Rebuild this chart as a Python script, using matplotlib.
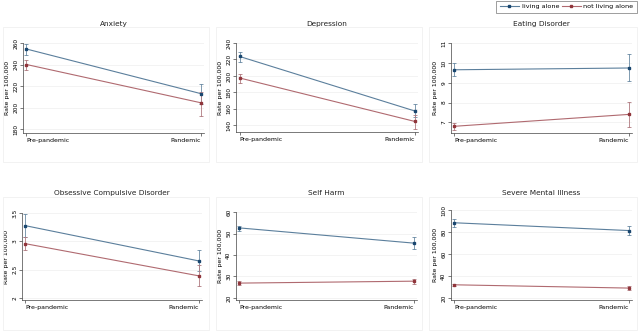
import matplotlib
matplotlib.use("Agg")
import matplotlib.pyplot as plt
from matplotlib.patches import Rectangle
from matplotlib.lines import Line2D

periods = ["Pre-pandemic", "Pandemic"]
titles = ["Anxiety", "Depression", "Eating Disorder",
          "Obsessive Compulsive Disorder", "Self Harm", "Severe Mental Illness"]

alone_rate = [[254.4, 213.0], [223.7, 157.6], [9.66, 9.75],
              [3.28, 2.655], [52.7, 45.6], [88.6, 81.5]]
alone_lo = [[249.0, 203.5], [217.0, 150.0], [9.32, 9.07],
            [3.08, 2.47], [51.4, 42.8], [84.9, 77.3]]
alone_hi = [[259.4, 222.0], [229.0, 166.0], [9.98, 10.44],
            [3.48, 2.84], [53.8, 48.4], [91.6, 85.6]]

notalone_rate = [[240.0, 204.5], [197.6, 144.9], [6.80, 7.40],
                 [2.96, 2.39], [26.9, 27.8], [31.9, 28.9]]
notalone_lo = [[235.0, 192.0], [192.0, 136.0], [6.61, 6.75],
               [2.85, 2.20], [25.9, 26.6], [30.9, 27.4]]
notalone_hi = [[244.6, 214.0], [202.0, 152.6], [6.98, 8.05],
               [3.08, 2.58], [27.7, 29.0], [32.8, 30.4]]

yticks = [[180, 200, 220, 240, 260], [140, 160, 180, 200, 220, 240],
          [7, 8, 9, 10, 11], [2, 2.5, 3, 3.5], [20, 30, 40, 50, 60],
          [20, 40, 60, 80, 100]]
yticklabels = [["180", "200", "220", "240", "260"],
               ["140", "160", "180", "200", "220", "240"],
               ["7", "8", "9", "10", "11"], ["2", "2.5", "3", "3.5"],
               ["20", "30", "40", "50", "60"], ["20", "40", "60", "80", "100"]]
ybottom = [176.6, 132, 6.46, 1.96, 19, 18]

W, H = 640, 332
# axes pixel boxes: left, right, top, bottom
boxes = [(23, 204, 43, 132.7), (236, 418, 43, 132), (451, 632, 43.3, 133),
         (22, 202, 213.3, 300), (236, 417, 212.3, 300), (451, 632, 210.3, 300)]
outer = [(3, 209, 27, 162), (216, 422, 27, 162), (429, 637, 27, 162),
         (3, 209, 197, 330), (216, 422, 197, 330), (429, 637, 197, 330)]
title_y = [24, 24, 24, 193, 193, 193]

navy = "#1a476f"
maroon = "#90353b"
navy_line = "#5b7f9c"
maroon_line = "#b06a70"

fig = plt.figure(figsize=(6.4, 3.32), dpi=100)
fig.patch.set_facecolor("white")

for i in range(6):
    ox0, ox1, oy0, oy1 = outer[i]
    fig.patches.append(Rectangle((ox0 / W, 1 - oy1 / H), (ox1 - ox0) / W, (oy1 - oy0) / H,
                                 transform=fig.transFigure, fill=False,
                                 edgecolor="#f0f0f0", linewidth=0.6))
    l, r, t, b = boxes[i]
    ax = fig.add_axes([l / W, 1 - b / H, (r - l) / W, (b - t) / H])
    x = [0, 1]
    ax.plot(x, alone_rate[i], color=navy_line, lw=0.8, zorder=2)
    ax.plot(x, notalone_rate[i], color=maroon_line, lw=0.8, zorder=2)
    for k in range(2):
        ax.plot([x[k], x[k]], [alone_lo[i][k], alone_hi[i][k]], color="#6a8aa3", lw=0.6, zorder=3)
        ax.plot([x[k]], [alone_lo[i][k]], marker="_", color="#6a8aa3", ms=2.5, mew=0.6)
        ax.plot([x[k]], [alone_hi[i][k]], marker="_", color="#6a8aa3", ms=2.5, mew=0.6)
        ax.plot([x[k], x[k]], [notalone_lo[i][k], notalone_hi[i][k]], color="#b07a80", lw=0.6, zorder=3)
        ax.plot([x[k]], [notalone_lo[i][k]], marker="_", color="#b07a80", ms=2.5, mew=0.6)
        ax.plot([x[k]], [notalone_hi[i][k]], marker="_", color="#b07a80", ms=2.5, mew=0.6)
    ax.plot(x, alone_rate[i], ls="none", marker="s", ms=1.7, color=navy, zorder=4)
    ax.plot(x, notalone_rate[i], ls="none", marker="s", ms=1.7, color=maroon, zorder=4)

    ax.set_xlim(-0.02, 1.02)
    ax.set_ylim(ybottom[i], yticks[i][-1])
    ax.set_yticks(yticks[i])
    ax.set_yticklabels(yticklabels[i], rotation=90, va="center", fontsize=4.2)
    ax.set_xticks(x)
    ax.set_xticklabels(periods, fontsize=4.5)
    lbls = ax.get_xticklabels()
    lbls[0].set_ha("left")
    lbls[1].set_ha("right")
    ax.tick_params(axis="x", length=2, width=0.5, pad=1.8, color="#444444")
    ax.tick_params(axis="y", length=2, width=0.5, pad=1.5, color="#444444")
    ax.grid(axis="y", color="#eeeeee", lw=0.5)
    ax.set_axisbelow(True)
    for s in ["top", "right"]:
        ax.spines[s].set_visible(False)
    for s in ["left", "bottom"]:
        ax.spines[s].set_linewidth(0.5)
        ax.spines[s].set_color("#444444")
    ax.set_ylabel("Rate per 100,000", fontsize=4.5, labelpad=2)
    fig.text(((l + r) / 2 + 0) / W, 1 - title_y[i] / H, titles[i], ha="center", va="center",
             fontsize=5.3, color="#222222")

# legend
handles = [Line2D([0], [0], color=navy_line, lw=0.8, marker="s", ms=1.7,
                  markerfacecolor=navy, markeredgecolor=navy),
           Line2D([0], [0], color=maroon_line, lw=0.8, marker="s", ms=1.7,
                  markerfacecolor=maroon, markeredgecolor=maroon)]
leg = fig.legend(handles, ["living alone", "not living alone"], loc="upper right",
                 bbox_to_anchor=(637 / W, 1 - 0.5 / H), ncol=2, fontsize=4.6,
                 frameon=True, fancybox=False, edgecolor="#555555",
                 handlelength=3.0, columnspacing=0.4, handletextpad=0.4,
                 borderpad=0.55, borderaxespad=0)
leg.get_frame().set_linewidth(0.5)

fig.savefig("out.png", dpi=100, facecolor="white")
